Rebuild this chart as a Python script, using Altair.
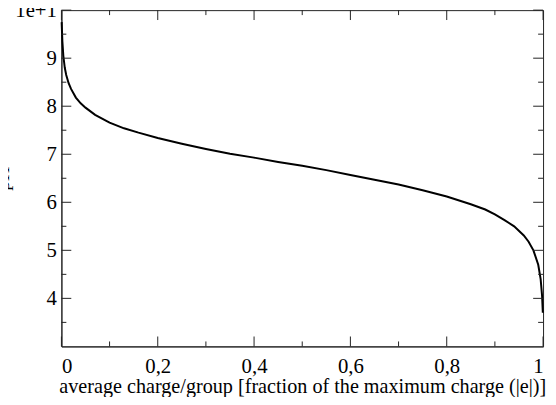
import altair as alt
import pandas as pd

# data
charge = [0.0005, 0.002, 0.004, 0.007, 0.01, 0.015, 0.02, 0.03, 0.04, 0.05,
          0.07, 0.1, 0.13, 0.16, 0.2, 0.25, 0.3, 0.35, 0.4, 0.45,
          0.5, 0.55, 0.6, 0.65, 0.7, 0.75, 0.8, 0.85, 0.88, 0.9,
          0.92, 0.94, 0.96, 0.97, 0.98, 0.99, 0.995, 0.998, 0.9995]
ph = [9.75, 9.35, 9.05, 8.8, 8.65, 8.48, 8.36, 8.18, 8.06, 7.97,
      7.82, 7.66, 7.54, 7.45, 7.34, 7.22, 7.11, 7.01, 6.93, 6.84,
      6.76, 6.67, 6.57, 6.47, 6.37, 6.25, 6.12, 5.96, 5.85, 5.75,
      5.63, 5.5, 5.31, 5.18, 5.0, 4.7, 4.4, 4.05, 3.7]

x_major = [0, 0.2, 0.4, 0.6, 0.8, 1.0]
x_minor = [0.1, 0.3, 0.5, 0.7, 0.9]
y_major = [4, 5, 6, 7, 8, 9, 10]
y_minor = [3.5, 4.5, 5.5, 6.5, 7.5, 8.5, 9.5]

x_title = "average charge/group [fraction of the maximum charge (|e|)]"
y_title = "pH"

W, H = 487, 340
X0, X1, Y0, Y1 = 0.0, 1.0, 3.0, 10.0
FONT = "Liberation Serif"
AX = "#222222"
MAJ, MIN = 10, 5  # tick lengths in pixels (style)

rows = []
for i, (cx, cy) in enumerate(zip(charge, ph)):
    rows.append({"id": "curve", "x": cx, "y": cy, "o": i, "w": 2.0, "c": "black"})


def seg(name, a, b):
    rows.append({"id": name, "x": a[0], "y": a[1], "o": 0, "w": 1.0, "c": AX})
    rows.append({"id": name, "x": b[0], "y": b[1], "o": 1, "w": 1.0, "c": AX})


for vals, ln in ((x_major, MAJ), (x_minor, MIN)):
    dy = ln * (Y1 - Y0) / H
    for v in vals:
        seg(f"xb{v}", (v, Y0), (v, Y0 + dy))
        seg(f"xt{v}", (v, Y1), (v, Y1 - dy))
for vals, ln in ((y_major, MAJ), (y_minor, MIN)):
    dx = ln * (X1 - X0) / W
    for v in vals:
        seg(f"yl{v}", (X0, v), (X0 + dx, v))
        seg(f"yr{v}", (X1, v), (X1 - dx, v))

df = pd.DataFrame(rows)

xs = alt.Scale(domain=[X0, X1], nice=False, zero=False)
ys = alt.Scale(domain=[Y0, Y1], nice=False, zero=False)

x_axis = alt.Axis(values=x_major, format="~g", tickSize=0,
                  grid=False, domainColor=AX, labelFont=FONT,
                  labelFontSize=21, labelColor="black", labelPadding=9,
                  title=x_title, titleFont=FONT, titleFontSize=20.4,
                  titleFontWeight="normal", titleColor="black",
                  titlePadding=1)
y_axis = alt.Axis(values=y_major, format="~g", tickSize=0, grid=False,
                  domainColor=AX, labelFont=FONT, labelFontSize=21,
                  labelColor="black", labelPadding=5,
                  title=y_title, titleFont=FONT, titleFontSize=20,
                  titleFontWeight="normal", titleColor="black",
                  titlePadding=2)

chart = alt.Chart(df).mark_line().encode(
    x=alt.X("x:Q", scale=xs, axis=x_axis),
    y=alt.Y("y:Q", scale=ys, axis=y_axis),
    detail="id:N",
    order=alt.Order("o:Q"),
    color=alt.Color("c:N", scale=None),
    strokeWidth=alt.StrokeWidth("w:Q", scale=None),
).properties(
    width=W, height=H,
    padding={"left": 54, "top": 0, "right": 5, "bottom": 49},
    autosize=alt.AutoSizeParams(type="none"),
).configure(
    locale=alt.Locale(number=alt.NumberLocale(
        decimal=",", thousands=".", grouping=[3], currency=["", " €"]))
).configure_view(stroke=AX, strokeWidth=1)

chart.save("out.html", embed_options={"renderer": "svg", "actions": False})
